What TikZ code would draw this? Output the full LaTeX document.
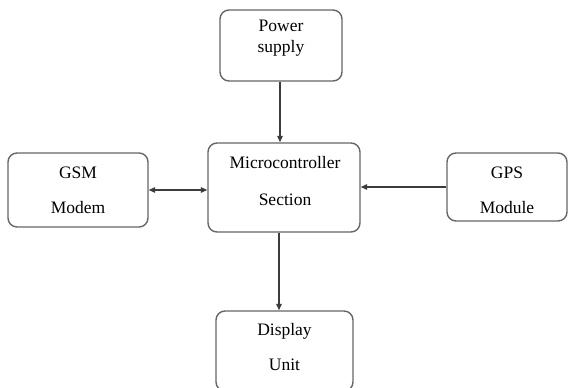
\documentclass[tikz,border=0pt]{standalone}
\usepackage{fontspec}
\setmainfont{Liberation Serif}
\usetikzlibrary{arrows.meta}
\definecolor{boxline}{HTML}{666666}
\definecolor{arrowline}{HTML}{3C3C3C}
\tikzset{
  block/.style={draw=boxline, line width=1.4pt, rounded corners=9pt, fill=white},
  caption/.style={align=center, text=black, font=\fontsize{17.5}{21}\selectfont},
  link/.style={draw=arrowline, line width=1.3pt, -{Triangle[length=6.5pt,width=5.5pt]}},
  dlink/.style={draw=arrowline, line width=1.3pt, {Triangle[length=6.5pt,width=5.5pt]}-{Triangle[length=6.5pt,width=5.5pt]}}
}
\begin{document}
\begin{tikzpicture}[x=1pt, y=-1pt]
  \useasboundingbox (0,0) rectangle (568,388);
  \clip (0,0) rectangle (568,388);
  \fill[white] (0,0) rectangle (568,388);

  % blocks
  \node[block, minimum width=122pt, minimum height=71pt] (pwr) at (281,45.5) {};
  \node[block, minimum width=152pt, minimum height=89pt] (mcu) at (284,187.5) {};
  \node[block, minimum width=140pt, minimum height=74pt] (gsm) at (78,190) {};
  \node[block, minimum width=120pt, minimum height=68pt] (gps) at (507,187) {};
  \node[block, minimum width=137pt, minimum height=80pt] (disp) at (284.5,351) {};

  % block captions
  \node[caption] (pwrtxt) at (281,38) {Power\\supply};
  \node[caption] (mcutxt) at (285,181) {Microcontroller\\[16pt]Section};
  \node[caption] (gsmtxt) at (78,190.5) {GSM\\[14pt]Modem};
  \node[caption] (gpstxt) at (507,190.5) {GPS\\[14pt]Module};
  \node[caption] (disptxt) at (284.5,347.5) {Display\\[14pt]Unit};

  % connections
  \draw[link] (280,0 |- pwr.south) -- (280,0 |- mcu.north);
  \draw[link] (279,0 |- mcu.south) -- (279,0 |- disp.north);
  \draw[dlink] (gsm.east) -- (gsm.east -| mcu.west);
  \draw[link] (gps.west) -- (gps.west -| mcu.east);
\end{tikzpicture}
\end{document}
